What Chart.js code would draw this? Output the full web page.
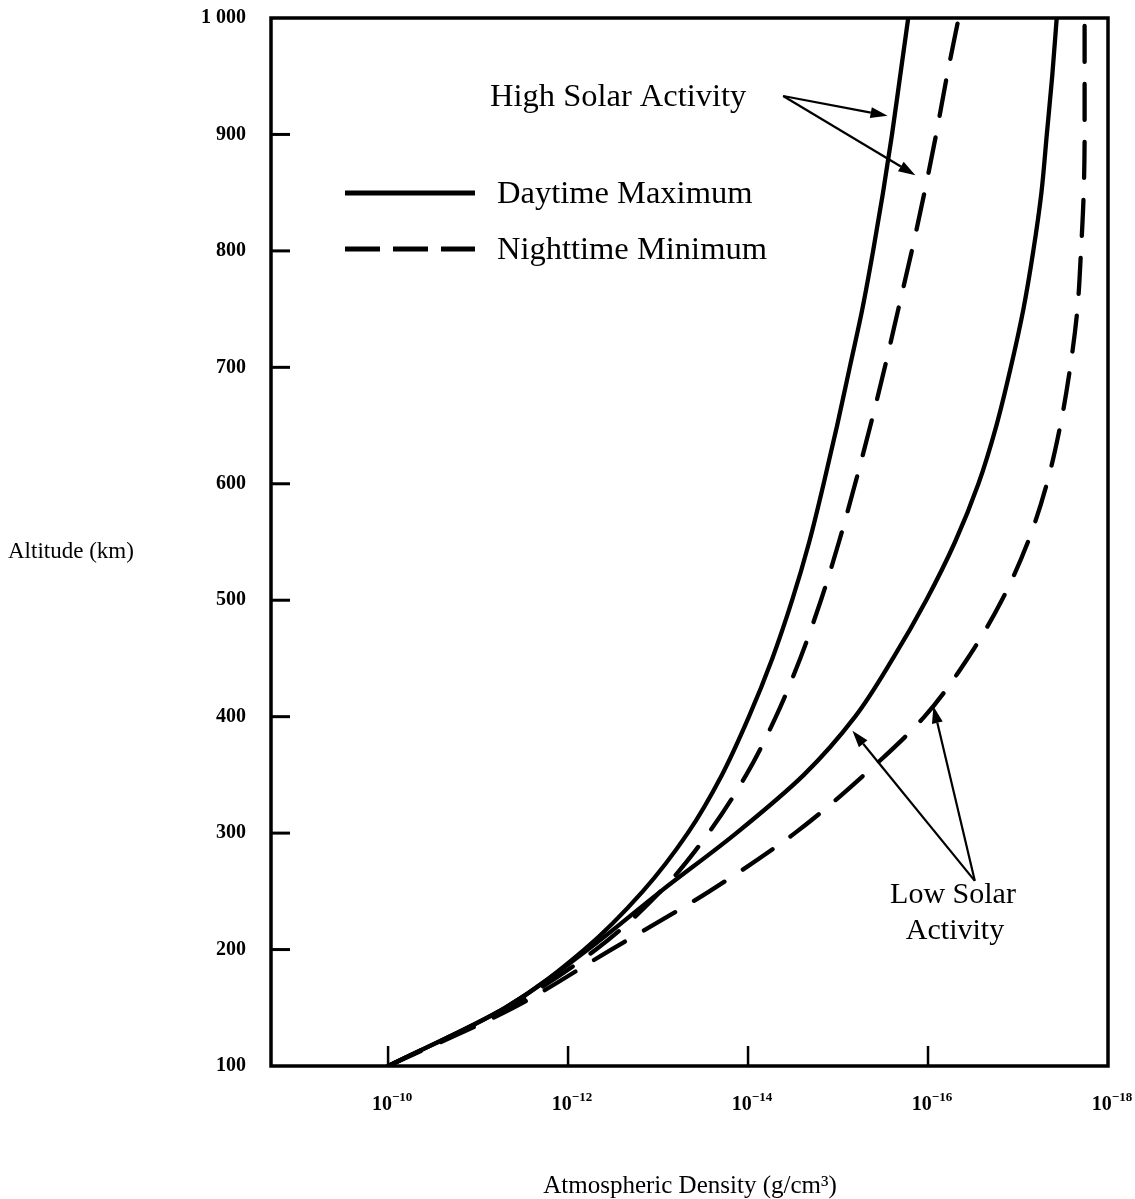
<!DOCTYPE html>
<html>
<head>
<meta charset="utf-8">
<script src="https://cdn.jsdelivr.net/npm/chart.js@4/dist/chart.umd.min.js"></script>
<style>
  html, body { margin: 0; padding: 0; background: #fff; }
  #wrap { width: 1135px; height: 1199px; position: relative; }
</style>
</head>
<body>
<div id="wrap"><canvas id="c"></canvas></div>
<script>
// ---- data (altitude in km, density as log10 of g/cm^3) ----
const altitudes    = [100, 150, 200, 250, 300, 350, 400, 450, 500, 550, 600, 650, 700, 750, 800, 850, 900, 950, 1000];
const highDayLog   = [-10.00, -11.30, -12.18, -12.83, -13.33, -13.71, -14.01, -14.27, -14.49, -14.68, -14.84, -14.99, -15.13, -15.27, -15.39, -15.50, -15.60, -15.69, -15.78];
const highNightLog = [-10.00, -11.32, -12.31, -13.03, -13.56, -13.98, -14.31, -14.58, -14.81, -15.01, -15.19, -15.36, -15.52, -15.67, -15.82, -15.96, -16.09, -16.21, -16.34];
const lowDayLog    = [-10.00, -11.30, -12.22, -13.03, -13.87, -14.62, -15.19, -15.61, -15.98, -16.30, -16.56, -16.76, -16.92, -17.06, -17.17, -17.26, -17.32, -17.38, -17.43];
const lowNightLog  = [-10.00, -11.39, -12.48, -13.57, -14.52, -15.29, -15.96, -16.44, -16.82, -17.11, -17.32, -17.47, -17.58, -17.66, -17.70, -17.73, -17.74, -17.74, -17.74];
const xTickExps    = [-10, -12, -14, -16, -18];
const yTickValues  = [100, 200, 300, 400, 500, 600, 700, 800, 900, 1000];
const legendLabels = ['Daytime Maximum', 'Nighttime Minimum'];
// annotation arrows: [fromLog, fromAlt, toLog, toAlt]
const highArrows = [[-14.39, 933, -15.55, 916], [-14.39, 933, -15.86, 865]];
const lowArrows  = [[-16.52, 259, -15.16, 388], [-16.52, 259, -16.06, 409]];

const SERIF = '"Liberation Serif", "DejaVu Serif", serif';

function mk(logs) { return altitudes.map((a, i) => ({ x: Math.pow(10, logs[i]), y: a })); }

const DASH = [36, 22];
function ds(label, logs, dashed) {
  return {
    label, data: mk(logs), borderColor: '#000', borderWidth: 4.3,
    borderDash: dashed ? DASH : [], borderCapStyle: dashed ? 'round' : 'butt',
    pointRadius: 0, cubicInterpolationMode: 'monotone', fill: false
  };
}

function arrow(ctx, x0, y0, x1, y1) {
  ctx.save();
  ctx.strokeStyle = '#000'; ctx.fillStyle = '#000'; ctx.lineWidth = 2.2;
  const ang = Math.atan2(y1 - y0, x1 - x0);
  const L = 17, W = 5.5;
  const bx = x1 - L * Math.cos(ang), by = y1 - L * Math.sin(ang);
  ctx.beginPath(); ctx.moveTo(x0, y0); ctx.lineTo(bx, by); ctx.stroke();
  ctx.beginPath();
  ctx.moveTo(x1, y1);
  ctx.lineTo(bx + W * Math.sin(ang), by - W * Math.cos(ang));
  ctx.lineTo(bx - W * Math.sin(ang), by + W * Math.cos(ang));
  ctx.closePath(); ctx.fill();
  ctx.restore();
}

const decor = {
  id: 'decor',
  afterDraw(chart) {
    const ctx = chart.ctx, a = chart.chartArea;
    const xs = chart.scales.x, ys = chart.scales.y;
    ctx.save();
    // frame
    ctx.strokeStyle = '#000'; ctx.lineWidth = 3.5;
    ctx.strokeRect(a.left, a.top, a.right - a.left, a.bottom - a.top);
    // inner ticks
    ctx.lineWidth = 3;
    yTickValues.forEach(v => {
      if (v === 100 || v === 1000) return;
      const y = ys.getPixelForValue(v);
      ctx.beginPath(); ctx.moveTo(a.left, y); ctx.lineTo(a.left + 19, y); ctx.stroke();
    });
    ctx.lineWidth = 2.5;
    xTickExps.forEach(e => {
      if (e === -18) return;
      const x = xs.getPixelForValue(Math.pow(10, e));
      ctx.beginPath(); ctx.moveTo(x, a.bottom); ctx.lineTo(x, a.bottom - 20); ctx.stroke();
    });
    // x tick labels with real superscripts
    ctx.fillStyle = '#000';
    ctx.textBaseline = 'alphabetic';
    xTickExps.forEach(e => {
      const x = xs.getPixelForValue(Math.pow(10, e)) + 4;
      ctx.font = 'bold 20px ' + SERIF;
      const base = '10', w1 = ctx.measureText(base).width;
      ctx.font = 'bold 13px ' + SERIF;
      const ex = '\u2212' + String(-e), w2 = ctx.measureText(ex).width;
      const x0 = x - (w1 + w2) / 2;
      ctx.textAlign = 'left';
      ctx.font = 'bold 20px ' + SERIF;
      ctx.fillText(base, x0, 1110);
      ctx.font = 'bold 13px ' + SERIF;
      ctx.fillText(ex, x0 + w1, 1101);
    });
    // legend
    ctx.lineWidth = 5; ctx.lineCap = 'butt';
    ctx.beginPath(); ctx.moveTo(345, 193); ctx.lineTo(475, 193); ctx.stroke();
    ctx.setLineDash([35, 13]);
    ctx.beginPath(); ctx.moveTo(345, 249); ctx.lineTo(475, 249); ctx.stroke();
    ctx.setLineDash([]);
    ctx.font = '32.5px ' + SERIF;
    ctx.textBaseline = 'middle'; ctx.textAlign = 'left';
    ctx.fillText(legendLabels[0], 497, 194);
    ctx.fillText(legendLabels[1], 497, 250);
    // annotations
    ctx.fillText('High Solar Activity', 490, 97);
    ctx.textAlign = 'center';
    ctx.font = '30px ' + SERIF;
    ctx.fillText('Low Solar', 953, 895);
    ctx.fillText('Activity', 955, 931);
    const P = (lg, alt) => [xs.getPixelForValue(Math.pow(10, lg)), ys.getPixelForValue(alt)];
    highArrows.concat(lowArrows).forEach(r => {
      const p0 = P(r[0], r[1]), p1 = P(r[2], r[3]);
      arrow(ctx, p0[0], p0[1], p1[0], p1[1]);
    });
    // axis titles
    ctx.font = '23px ' + SERIF;
    ctx.textAlign = 'left';
    ctx.fillText('Altitude (km)', 8, 552);
    ctx.font = '25px ' + SERIF;
    ctx.textAlign = 'center';
    ctx.fillText('Atmospheric Density (g/cm\u00B3)', 690, 1186);
    ctx.restore();
  }
};

new Chart(document.getElementById('c'), {
  type: 'line',
  data: {
    datasets: [
      ds('High Solar Activity - ' + legendLabels[0], highDayLog, false),
      ds('High Solar Activity - ' + legendLabels[1], highNightLog, true),
      ds('Low Solar Activity - ' + legendLabels[0], lowDayLog, false),
      ds('Low Solar Activity - ' + legendLabels[1], lowNightLog, true)
    ]
  },
  options: {
    indexAxis: 'y',
    responsive: true, maintainAspectRatio: false, animation: false,
    layout: { padding: { top: 18, right: 27, left: 0, bottom: 0 } },
    plugins: { legend: { display: false }, tooltip: { enabled: false } },
    scales: {
      x: {
        type: 'logarithmic', reverse: true,
        min: 1e-18, max: 2e-9,
        grid: { display: false }, border: { display: false },
        afterBuildTicks: s => { s.ticks = xTickExps.map(e => ({ value: Math.pow(10, e) })); },
        afterFit: s => { s.height = 133; s.paddingLeft = 0; s.paddingRight = 0; },
        ticks: { display: false }
      },
      y: {
        type: 'linear', min: 100, max: 1000,
        grid: { display: false }, border: { display: false },
        afterBuildTicks: s => { s.ticks = yTickValues.map(v => ({ value: v })); },
        afterFit: s => { s.width = 271; s.paddingTop = 0; s.paddingBottom = 0; },
        ticks: {
          autoSkip: false, padding: 17, color: '#000',
          font: { family: SERIF, size: 20, weight: 'bold' },
          callback: v => v === 1000 ? '1 000' : String(v)
        }
      }
    }
  },
  plugins: [decor]
});
</script>
</body>
</html>
